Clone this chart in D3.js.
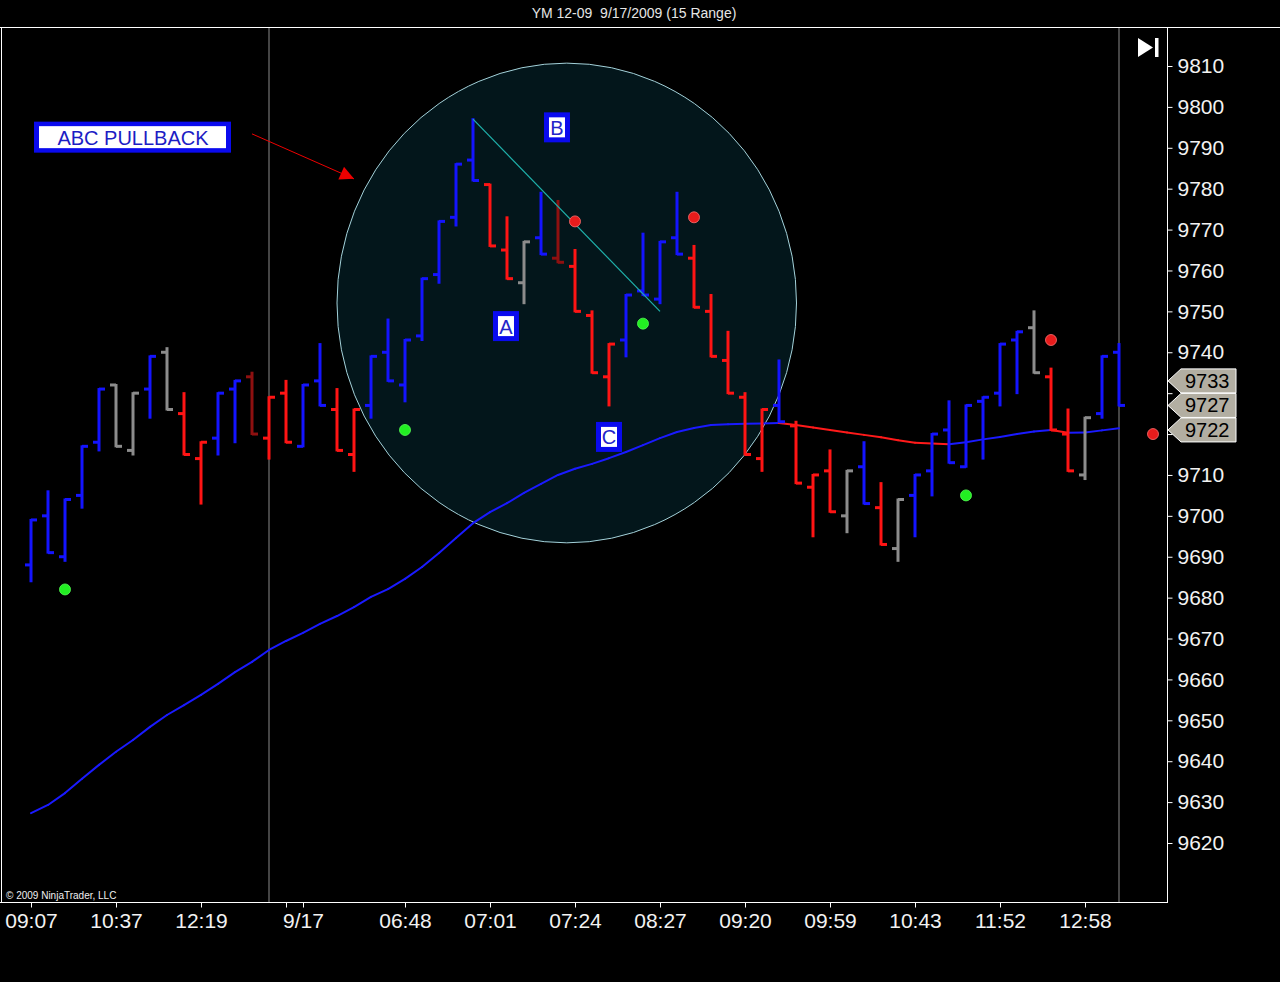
<!DOCTYPE html>
<html><head><meta charset="utf-8">
<script src="https://cdn.jsdelivr.net/npm/d3@7"></script>
<style>html,body{margin:0;padding:0;background:#000;}svg{display:block;}</style>
</head><body>
<svg id="chart" width="1280" height="982"></svg>
<script>
// ---- data ----
const opens  = [9688,9700,9690,9705,9718,9732,9716,9731,9740,9725,9714,9719,9731,9734,9719,9730,9717,9733,9726,9715,9727,9740,9732,9744,9759,9773,9787,9781,9765,9757,9768,9763,9761,9749,9734,9743,9755,9753,9768,9763,9750,9738,9729,9714,9727,9722,9707,9711,9700,9712,9702,9692,9705,9711,9721,9712,9728,9730,9743,9746,9734,9720,9710,9725,9740];
const highs  = [9699,9706,9704,9717,9731,9732,9730,9739,9741,9730,9718,9730,9733,9735,9729,9733,9732,9742,9731,9726,9739,9748,9743,9758,9772,9786,9797,9781,9773,9767,9779,9777,9765,9750,9742,9754,9769,9767,9779,9766,9754,9745,9730,9726,9738,9723,9710,9716,9711,9718,9708,9704,9710,9720,9728,9727,9729,9742,9745,9750,9736,9726,9724,9739,9742];
const lows   = [9684,9691,9689,9702,9716,9717,9715,9724,9726,9715,9703,9715,9718,9720,9714,9718,9717,9727,9716,9711,9724,9733,9728,9743,9757,9771,9782,9766,9758,9752,9764,9762,9750,9735,9727,9739,9754,9752,9764,9751,9739,9730,9715,9711,9723,9708,9695,9701,9696,9703,9693,9689,9695,9705,9713,9712,9714,9727,9730,9735,9721,9711,9709,9724,9727];
const closes = [9699,9691,9704,9717,9731,9717,9730,9739,9726,9715,9718,9730,9733,9720,9729,9718,9732,9727,9716,9726,9739,9733,9743,9758,9772,9786,9782,9766,9758,9767,9764,9762,9750,9735,9742,9754,9754,9767,9764,9751,9739,9730,9715,9726,9723,9708,9710,9701,9711,9703,9693,9704,9710,9720,9713,9727,9729,9742,9745,9735,9721,9711,9724,9739,9727];
// bar colour class: b = blue, r = red, g = gray, d = dark red
const barClass = ["b","b","b","b","b","g","g","b","g","r","r","b","b","d","r","r","b","b","r","r","b","b","b","b","b","b","b","r","r","g","b","d","r","r","r","b","b","b","b","r","r","r","r","r","b","r","r","r","g","b","r","g","b","b","b","b","b","b","b","g","r","r","g","b","b"];
const maValues = [9627.3,9629.3,9632.2,9635.7,9639.1,9642.3,9645.2,9648.4,9651.3,9653.7,9656.2,9658.9,9661.8,9664.3,9667.2,9669.4,9671.4,9673.6,9675.5,9677.7,9680.2,9682.1,9684.6,9687.5,9690.9,9694.6,9698.2,9700.9,9703.1,9705.6,9707.8,9710.0,9711.5,9712.7,9714.1,9715.6,9717.3,9719.0,9720.5,9721.5,9722.2,9722.4,9722.5,9722.6,9722.7,9722.2,9721.6,9721.0,9720.4,9719.8,9719.2,9718.5,9717.9,9717.7,9717.5,9718.0,9718.7,9719.3,9720.0,9720.6,9721.0,9720.3,9720.4,9720.9,9721.4];
const greenDotBars = [2,22,36,55];
const greenDotValues = [9682,9721,9747,9705];
const redDotBars = [32,39,60,66];
const redDotValues = [9772,9773,9743,9720];
const tickBars   = [0,5,10,15,16,22,27,32,37,42,47,52,57,62];
const tickLabels = ["09:07","10:37","12:19","","9/17","06:48","07:01","07:24","08:27","09:20","09:59","10:43","11:52","12:58"];
const yTickValues = d3.range(9620, 9811, 10);
const priceMarkers = [9733, 9727, 9722];
const sessionBars = [14, 64];
const title = "YM 12-09  9/17/2009 (15 Range)";

// annotations (bar index, price)
const ellipseBars = [18, 45.03], ellipsePrices = [9693.4, 9810.7];
const trendLine = [[26, 9797], [37, 9750]];
const letterLabels = [["B", 30.94, 9795], ["A", 27.94, 9746.4], ["C", 34, 9719.3]];
const pullbackLabel = ["ABC PULLBACK", 6, 9792.6];
const arrowFrom = [13, 9793.4], arrowTo = [19, 9782.4];

// ---- layout ----
const W = 1280, H = 982;
const plot = {left: 1, right: 1167, top: 28, bottom: 902};
const x = d3.scaleLinear().domain([0, 64]).range([31, 1119]);
const y = d3.scaleLinear().domain([9620, 9810]).range([843, 66]);
const FONT = "'Liberation Sans', Arial, sans-serif";
const colors = {b: "#1414ff", r: "#ff1414", g: "#8c8c8c", d: "#8e1010"};

const svg = d3.select("#chart");
svg.append("rect").attr("width", W).attr("height", H).attr("fill", "#000");

// title
svg.append("text").attr("x", 634).attr("y", 18).attr("text-anchor", "middle")
  .style("white-space", "pre").attr("xml:space", "preserve")
  .attr("font-family", FONT).attr("font-size", 14).attr("fill", "#e6e6e6").text(title);

const defs = svg.append("defs");
defs.append("clipPath").attr("id", "plotclip").append("rect")
  .attr("x", plot.left).attr("y", plot.top).attr("width", plot.right - plot.left).attr("height", plot.bottom - plot.top);
defs.append("marker").attr("id", "arrowhead").attr("viewBox", "0 0 10 10")
  .attr("refX", 10).attr("refY", 5).attr("markerWidth", 16).attr("markerHeight", 14)
  .attr("markerUnits", "userSpaceOnUse").attr("orient", "auto")
  .append("path").attr("d", "M0,0 L10,5 L0,10 Z").attr("fill", "#ee0000");

const g = svg.append("g").attr("clip-path", "url(#plotclip)");

// ellipse annotation
const ex0 = x(ellipseBars[0]), ex1 = x(ellipseBars[1]);
const ey0 = y(ellipsePrices[1]), ey1 = y(ellipsePrices[0]);
g.append("ellipse").attr("cx", (ex0 + ex1) / 2).attr("cy", (ey0 + ey1) / 2)
  .attr("rx", (ex1 - ex0) / 2).attr("ry", (ey1 - ey0) / 2)
  .attr("fill", "#03161b").attr("stroke", "#a4d2da").attr("stroke-width", 1);

// session lines
g.selectAll("line.session").data(sessionBars).join("line").attr("class", "session")
  .attr("x1", d => x(d)).attr("x2", d => x(d)).attr("y1", plot.top).attr("y2", plot.bottom)
  .attr("stroke", "#8a8a8a").attr("stroke-width", 1);

// moving average (blue rising, red falling)
const maSeg = d3.range(maValues.length - 1);
g.selectAll("line.ma").data(maSeg).join("line").attr("class", "ma")
  .attr("x1", i => x(i)).attr("y1", i => y(maValues[i]))
  .attr("x2", i => x(i + 1)).attr("y2", i => y(maValues[i + 1]))
  .attr("stroke", i => maValues[i + 1] >= maValues[i] ? "#1a1aff" : "#ff1a1a")
  .attr("stroke-width", 2).attr("stroke-linecap", "round");

// OHLC bars
const bars = g.selectAll("g.bar").data(d3.range(opens.length)).join("g").attr("class", "bar")
  .attr("stroke", i => colors[barClass[i]]).attr("stroke-width", 3);
bars.append("line").attr("x1", i => x(i)).attr("x2", i => x(i))
  .attr("y1", i => y(highs[i]) - 1).attr("y2", i => y(lows[i]) + 1);
bars.append("line").attr("x1", i => x(i) - 6).attr("x2", i => x(i))
  .attr("y1", i => y(opens[i])).attr("y2", i => y(opens[i]));
bars.append("line").attr("x1", i => x(i)).attr("x2", i => x(i) + 6)
  .attr("y1", i => y(closes[i])).attr("y2", i => y(closes[i]));

// trend line
g.append("line").attr("x1", x(trendLine[0][0])).attr("y1", y(trendLine[0][1]))
  .attr("x2", x(trendLine[1][0])).attr("y2", y(trendLine[1][1]))
  .attr("stroke", "#1fb0aa").attr("stroke-width", 1.2);

// dots
g.selectAll("circle.gd").data(greenDotBars).join("circle").attr("class", "gd")
  .attr("cx", d => x(d)).attr("cy", (d, i) => y(greenDotValues[i])).attr("r", 5.5)
  .attr("fill", "#22ee22").attr("stroke", "#55ff55").attr("stroke-width", 0.8);
g.selectAll("circle.rd").data(redDotBars).join("circle").attr("class", "rd")
  .attr("cx", d => x(d)).attr("cy", (d, i) => y(redDotValues[i])).attr("r", 5.5)
  .attr("fill", "#e81c1c").attr("stroke", "#ff7070").attr("stroke-width", 0.8);

// letter labels
letterLabels.forEach(([t, b, p]) => {
  const cx = x(b), cy = y(p);
  g.append("rect").attr("x", cx - 13).attr("y", cy - 15).attr("width", 26).attr("height", 30).attr("fill", "#0a0aee");
  g.append("rect").attr("x", cx - 8).attr("y", cy - 10).attr("width", 16).attr("height", 20).attr("fill", "#ffffff");
  g.append("text").attr("x", cx).attr("y", cy + 7.5).attr("text-anchor", "middle")
    .attr("font-family", FONT).attr("font-size", 20).attr("fill", "#2424c8").text(t);
});

// ABC PULLBACK label
{
  const cx = x(pullbackLabel[1]), cy = y(pullbackLabel[2]);
  g.append("rect").attr("x", cx - 99).attr("y", cy - 15.5).attr("width", 197).attr("height", 31).attr("fill", "#0a0aee");
  g.append("rect").attr("x", cx - 94).attr("y", cy - 11).attr("width", 187).attr("height", 22).attr("fill", "#ffffff");
  g.append("text").attr("x", cx).attr("y", cy + 7.5).attr("text-anchor", "middle")
    .attr("font-family", FONT).attr("font-size", 20).attr("fill", "#1c1cc4").text(pullbackLabel[0]);
}

// arrow
g.append("line").attr("x1", x(arrowFrom[0])).attr("y1", y(arrowFrom[1]))
  .attr("x2", x(arrowTo[0])).attr("y2", y(arrowTo[1]))
  .attr("stroke", "#ee0000").attr("stroke-width", 1).attr("marker-end", "url(#arrowhead)");

// frame
svg.append("line").attr("x1", 0).attr("x2", W).attr("y1", plot.top - 0.5).attr("y2", plot.top - 0.5).attr("stroke", "#ffffff");
svg.append("line").attr("x1", plot.left + 0.5).attr("x2", plot.left + 0.5).attr("y1", plot.top).attr("y2", plot.bottom).attr("stroke", "#ffffff");

// x axis
const xAxis = d3.axisBottom(x).tickValues(tickBars).tickSize(5).tickPadding(6)
  .tickFormat((d, i) => tickLabels[i]);
const xg = svg.append("g").attr("transform", `translate(0,${plot.bottom + 0.5})`).call(xAxis);
xg.select(".domain").remove();
xg.append("line").attr("x1", 0).attr("x2", plot.right).attr("y1", 0).attr("y2", 0).attr("stroke", "#fff");
xg.selectAll(".tick line").attr("stroke", "#fff");
xg.selectAll(".tick text").attr("fill", "#f2f2f2").attr("font-family", FONT).attr("font-size", 21);

// price marker positions (stacked so they don't collide)
const markerY = [];
priceMarkers.forEach((v, i) => {
  const py = i === 0 ? y(v) : Math.max(y(v), markerY[i - 1] + 24.5);
  markerY.push(py);
});

// y axis (right); labels hidden where a price marker covers them
const covered = v => markerY.some(py => Math.abs(y(v) - py) < 14);
const yAxis = d3.axisRight(y).tickValues(yTickValues).tickSize(5).tickPadding(5)
  .tickFormat(v => covered(v) ? "" : d3.format("d")(v));
const yg = svg.append("g").attr("transform", `translate(${plot.right + 0.5},0)`).call(yAxis);
yg.select(".domain").remove();
yg.append("line").attr("x1", 0).attr("x2", 0).attr("y1", plot.top).attr("y2", plot.bottom + 1).attr("stroke", "#fff");
yg.selectAll(".tick line").attr("stroke", "#fff");
yg.selectAll(".tick text").attr("fill", "#f2f2f2").attr("font-family", FONT).attr("font-size", 21);

// price markers
priceMarkers.forEach((v, i) => {
  const py = markerY[i];
  const mk = svg.append("g");
  mk.append("path").attr("d", `M${plot.right + 1},${py} L${plot.right + 14},${py - 12} L1236,${py - 12} L1236,${py + 12} L${plot.right + 14},${py + 12} Z`)
    .attr("fill", "#b2aea2").attr("stroke", "#ffffff").attr("stroke-width", 1);
  mk.append("text").attr("x", 1185).attr("y", py + 7).attr("font-family", FONT).attr("font-size", 20)
    .attr("fill", "#000").text(v);
});

// "go to end" icon
svg.append("path").attr("d", "M1138,38 L1153,47.5 L1138,57 Z").attr("fill", "#fff");
svg.append("rect").attr("x", 1155).attr("y", 38).attr("width", 3.5).attr("height", 19).attr("fill", "#fff");

// copyright
svg.append("text").attr("x", 6).attr("y", 899).attr("font-family", FONT).attr("font-size", 10)
  .attr("fill", "#f0f0f0").text("© 2009 NinjaTrader, LLC");
</script>
</body></html>
